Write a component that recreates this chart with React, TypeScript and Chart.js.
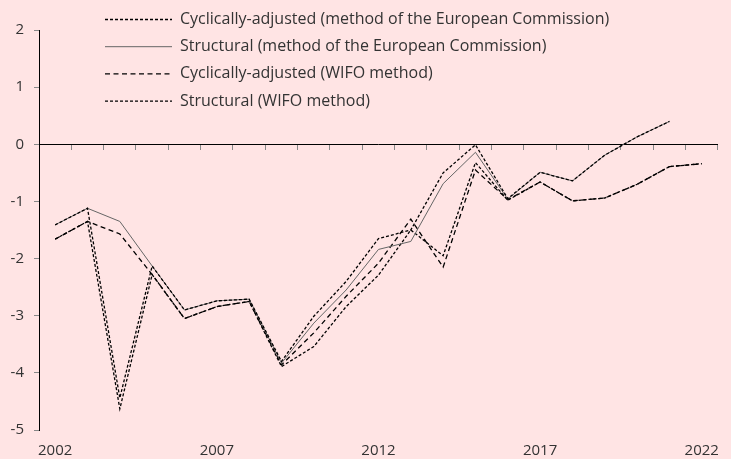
import React, { useEffect, useRef } from 'react';
import { Chart, registerables } from 'chart.js';
Chart.register(...registerables);

const BG = '#FFE4E4';
const FONT = '"Open Sans", sans-serif';

const years = [2002, 2003, 2004, 2005, 2006, 2007, 2008, 2009, 2010, 2011, 2012, 2013, 2014, 2015, 2016, 2017, 2018, 2019, 2020, 2021, 2022];
const caEC = [-1.41, -1.12, -4.44, -2.13, -2.90, -2.74, -2.71, -3.80, -3.01, -2.40, -1.65, -1.50, -0.50, -0.01, -0.95, -0.49, -0.64, -0.19, 0.13, 0.40, null];
const structEC = [-1.41, -1.12, -1.35, -2.13, -2.90, -2.74, -2.71, -3.83, -3.13, -2.55, -1.84, -1.70, -0.69, -0.14, -0.96, -0.49, -0.64, -0.19, 0.13, 0.40, null];
const caWIFO = [-1.66, -1.35, -1.57, -2.28, -3.05, -2.84, -2.75, -3.86, -3.30, -2.66, -2.08, -1.31, -2.15, -0.45, -0.97, -0.66, -0.99, -0.94, -0.70, -0.39, -0.34];
const structWIFO = [-1.66, -1.35, -4.63, -2.28, -3.05, -2.84, -2.75, -3.89, -3.54, -2.84, -2.29, -1.50, -1.95, -0.32, -0.98, -0.66, -0.99, -0.94, -0.70, -0.39, -0.34];
const seriesLabels = [
  'Cyclically-adjusted (method of the European Commission)',
  'Structural (method of the European Commission)',
  'Cyclically-adjusted (WIFO method)',
  'Structural (WIFO method)',
];
const yMin = -5;
const yMax = 2;
const labelEvery = 5;

const bgPlugin = {
  id: 'bg',
  beforeDraw(chart: any) {
    const { ctx, width, height } = chart;
    ctx.save();
    ctx.fillStyle = BG;
    ctx.fillRect(0, 0, width, height);
    ctx.restore();
  },
};

const legendPlugin = {
  id: 'customLegend',
  afterDatasetsDraw(chart: any) {
    const ctx = chart.ctx;
    chart.data.datasets.forEach((ds: any, i: number) => {
      const y = 19.5 + i * 27.2;
      ctx.save();
      ctx.strokeStyle = ds.borderColor;
      ctx.lineWidth = ds.borderWidth;
      ctx.setLineDash(ds.borderDash || []);
      ctx.beginPath();
      ctx.moveTo(105, y);
      ctx.lineTo(172, y);
      ctx.stroke();
      ctx.setLineDash([]);
      ctx.fillStyle = '#333';
      ctx.font = '16px ' + FONT;
      ctx.textBaseline = 'middle';
      ctx.fillText(ds.label, 180, y);
      ctx.restore();
    });
  },
};

export default function App() {
  const ref = useRef<HTMLCanvasElement>(null);
  useEffect(() => {
    document.body.style.margin = '0';
    document.body.style.background = BG;
    const common = { pointRadius: 0, tension: 0, fill: false, spanGaps: false };
    const chart = new Chart(ref.current as HTMLCanvasElement, {
      type: 'line',
      data: {
        labels: years.map(String),
        datasets: [
          { ...common, label: seriesLabels[0], data: caEC, borderColor: '#000', borderWidth: 1.3, borderDash: [3, 2] },
          { ...common, label: seriesLabels[1], data: structEC, borderColor: '#666', borderWidth: 1, borderDash: [] },
          { ...common, label: seriesLabels[2], data: caWIFO, borderColor: '#000', borderWidth: 1.3, borderDash: [5, 3.5] },
          { ...common, label: seriesLabels[3], data: structWIFO, borderColor: '#000', borderWidth: 1.3, borderDash: [3, 2] },
        ],
      },
      options: {
        responsive: false,
        animation: false,
        devicePixelRatio: 1,
        layout: { padding: { top: 30, right: 3, left: 0, bottom: 0 } },
        plugins: { legend: { display: false }, tooltip: { enabled: false } },
        scales: {
          x: {
            type: 'category',
            offset: true,
            position: 'bottom',
            grid: { display: false, drawTicks: false },
            border: { display: false },
            ticks: {
              autoSkip: false,
              maxRotation: 0,
              padding: 12,
              color: '#333',
              font: { size: 15, family: FONT },
              callback: (_v: any, i: number) => (i % labelEvery === 0 ? String(years[i]) : ''),
            },
            afterFit: (s: any) => { s.height = 29; },
          },
          x2: {
            type: 'category',
            offset: true,
            position: { y: 0 },
            grid: { display: true, offset: true, drawOnChartArea: false, drawTicks: true, tickLength: 5, color: '#888' },
            border: { display: true, color: '#000', width: 1 },
            ticks: { display: false },
          },
          y: {
            min: yMin,
            max: yMax,
            position: 'left',
            ticks: { stepSize: 1, padding: 10, color: '#333', font: { size: 15, family: FONT } },
            grid: { display: true, drawOnChartArea: false, drawTicks: true, tickLength: 5, color: '#888' },
            border: { display: true, color: '#000', width: 1 },
            afterFit: (s: any) => { s.width = 39; },
          },
        },
      } as any,
      plugins: [bgPlugin, legendPlugin],
    });
    return () => chart.destroy();
  }, []);
  return (
    <div style={{ position: 'fixed', left: 0, top: 0, width: 731, height: 459, background: BG }}>
      <canvas ref={ref} width={731} height={459} style={{ display: 'block' }} />
    </div>
  );
}
